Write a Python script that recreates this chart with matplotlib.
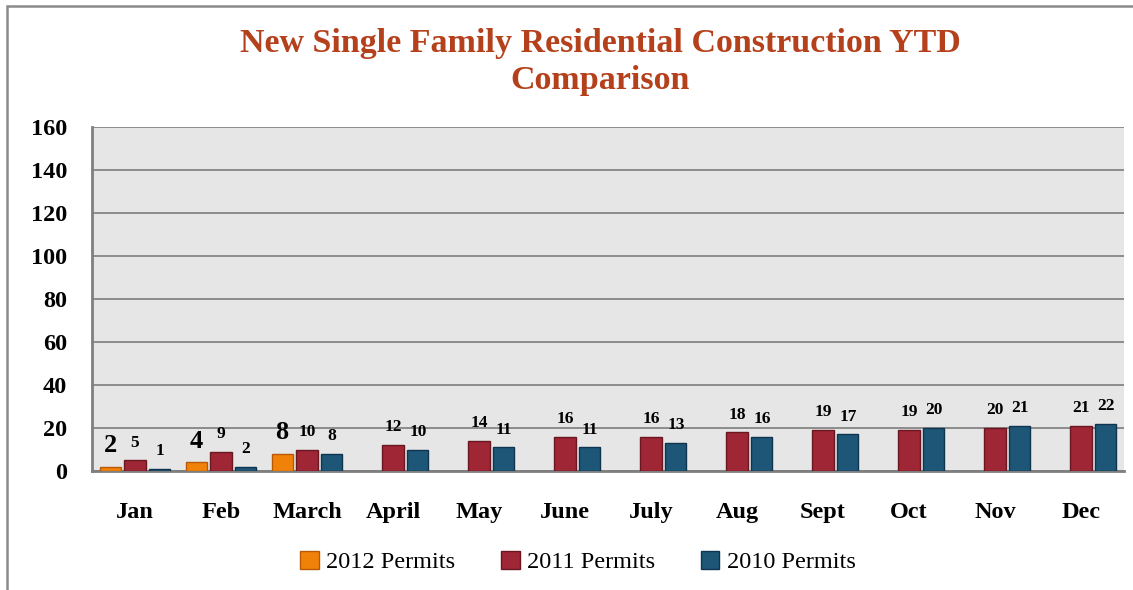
import numpy as np
import matplotlib.pyplot as plt
from matplotlib.patches import Rectangle

months = ['Jan', 'Feb', 'March', 'April', 'May', 'June', 'July',
          'Aug', 'Sept', 'Oct', 'Nov', 'Dec']
permits_2012 = [2, 4, 8, np.nan, np.nan, np.nan, np.nan, np.nan, np.nan, np.nan, np.nan, np.nan]
permits_2011 = [5, 9, 10, 12, 14, 16, 16, 18, 19, 19, 20, 21]
permits_2010 = [1, 2, 8, 10, 11, 11, 13, 16, 17, 20, 21, 22]

plt.rcParams['font.family'] = ['Liberation Serif', 'DejaVu Serif']

fig = plt.figure(figsize=(11.33, 5.9), dpi=100)
ax = fig.add_axes([92 / 1133, 1 - 471 / 590, (1124 - 92) / 1133, (471 - 127) / 590])

# outer chart frame
fig.patches.append(Rectangle((7 / 1133, -0.1), 1.2, 1.1 - 6 / 590, transform=fig.transFigure,
                             fill=False, edgecolor='#8a8a8a', linewidth=1.8))

x = np.arange(len(months))
w = 0.245
off = 0.29
series = [
    (permits_2012, '2012 Permits', '#F0820A', '#B85A05', 19),
    (permits_2011, '2011 Permits', '#9E2635', '#6A1722', 12.5),
    (permits_2010, '2010 Permits', '#1E5678', '#0E3450', 12.5),
]

for k, (vals, name, col, edge, fs) in enumerate(series):
    pos = x + (k - 1) * off
    bars = ax.bar(pos, vals, width=w, color=col, edgecolor=edge, linewidth=1, label=name, zorder=3)
    for p, v in zip(pos, vals):
        if not np.isnan(v):
            ax.annotate(f'{int(v)}', (p, v), xytext=(0, 7), textcoords='offset points',
                        ha='center', va='bottom', fontsize=fs, fontweight='bold')

ax.set_xlim(-0.5, 11.5)
ax.set_ylim(0, 160)
ax.set_yticks(range(0, 161, 20))
ax.set_xticks(x)
ax.set_xticklabels(months)
ax.set_facecolor('#E6E6E6')
ax.grid(axis='y', color='#8c8c8c', linewidth=1.4, zorder=0)
ax.set_axisbelow(True)
for s in ['top', 'right']:
    ax.spines[s].set_visible(False)
for s in ['left', 'bottom']:
    ax.spines[s].set_color('#7f7f7f')
    ax.spines[s].set_linewidth(2)
ax.tick_params(axis='x', length=0, pad=22, labelsize=17.5)
ax.tick_params(axis='y', length=0, pad=18, labelsize=17.5)
for lbl in ax.get_xticklabels() + ax.get_yticklabels():
    lbl.set_fontweight('bold')

fig.text(600 / 1133, 1 - 62 / 590, 'New Single Family Residential Construction YTD\nComparison',
         ha='center', va='center', fontsize=24.5, fontweight='bold', color='#B5401C',
         linespacing=1.28)

fig.legend(loc='center', bbox_to_anchor=(578 / 1133, 1 - 562 / 590), ncol=3, frameon=False,
           fontsize=17.5, handlelength=0.75, handleheight=0.75, handletextpad=0.3, columnspacing=1.9)

fig.savefig('out.png', dpi=100)
